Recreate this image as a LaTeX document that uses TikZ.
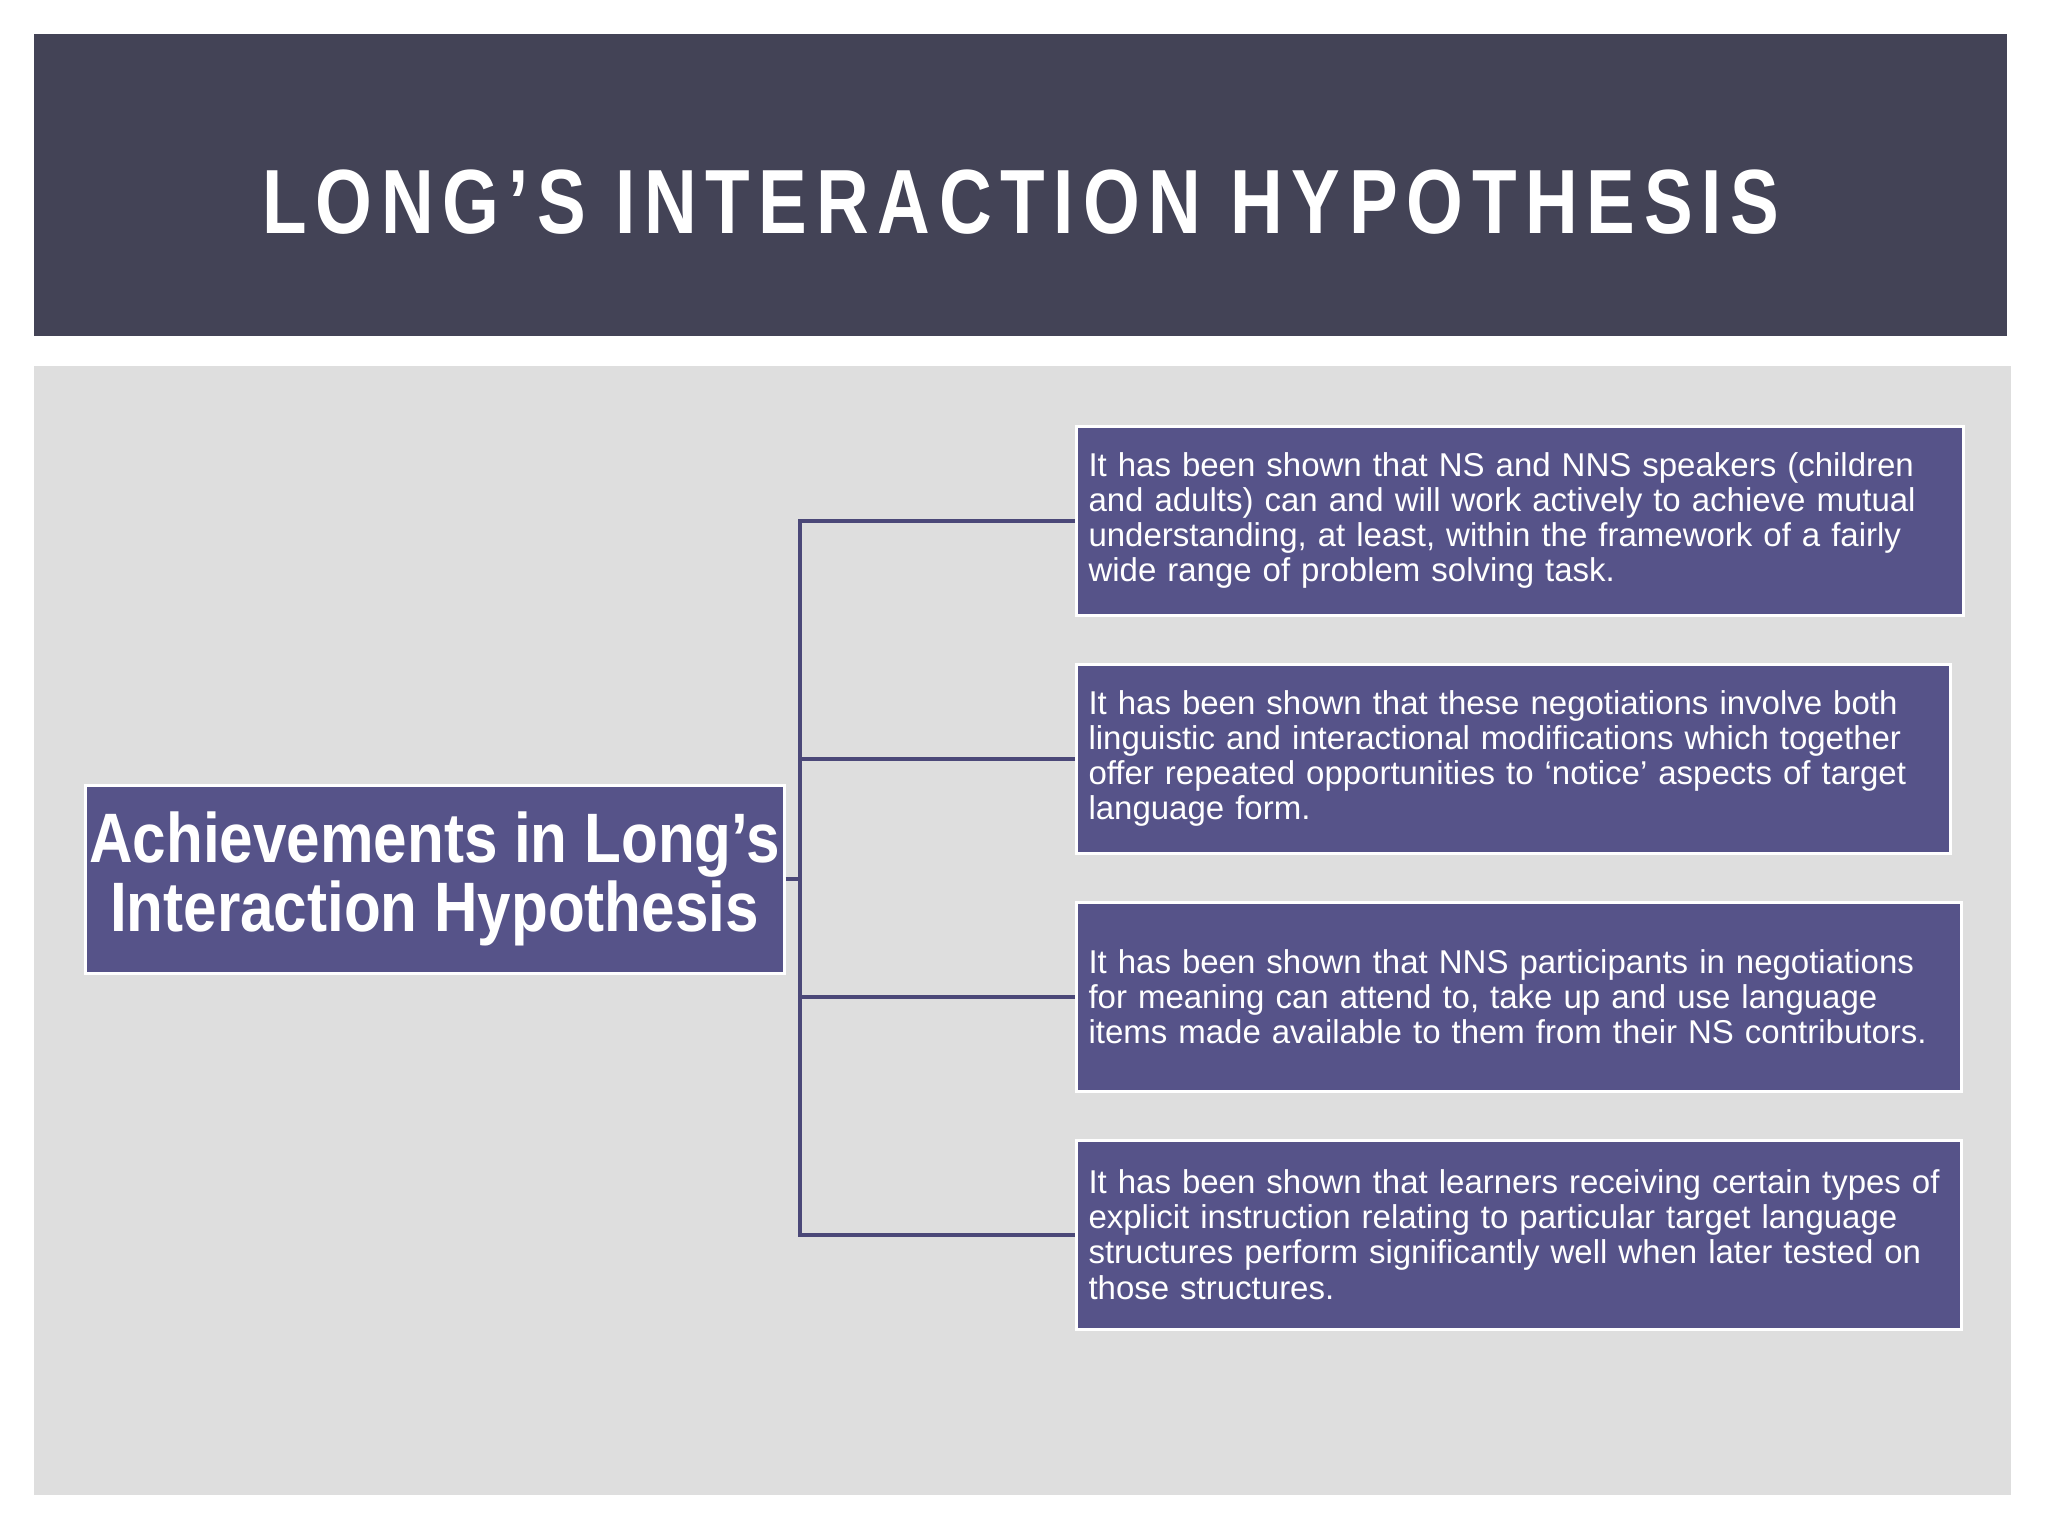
\documentclass[tikz,border=0pt]{standalone}
\usepackage{fontspec}
\setmainfont{Liberation Sans}
\newfontfamily\leadfont[FakeStretch=0.86]{Liberation Sans}
\newfontfamily\titlefont[FakeStretch=0.8,LetterSpace=9.6]{Liberation Sans}
\usetikzlibrary{positioning}
\definecolor{banner}{HTML}{434356}
\definecolor{panel}{HTML}{DEDEDE}
\definecolor{boxfill}{HTML}{565389}
\definecolor{treeline}{HTML}{4B4878}

\begin{document}
\begin{tikzpicture}[x=0.5pt, y=-0.5pt, node distance=23pt,
    finding/.style={draw=white, line width=1.5pt, fill=boxfill, text=white, rectangle, align=left, minimum height=94.5pt, inner xsep=6pt, font=\fontsize{16.5}{17.6}\selectfont},
    tree/.style={draw=treeline, line width=2pt}]
    % Slide background and title bar
    \fill[white] (0,0) rectangle (2048,1536);
    \useasboundingbox (0,0) rectangle (2048,1536);
    \fill[banner] (34,34) rectangle (2007,336);
    \fill[panel] (34,366) rectangle (2011,1495);
    \node[text=white, font=\titlefont\bfseries\fontsize{45.6}{50}\selectfont] (title) at (1021,202) {LONG’S INTERACTION HYPOTHESIS};

    % Root node
    \node[draw=white, line width=1.5pt, fill=boxfill, text=white, align=center, minimum width=349.5pt, minimum height=94pt, inner sep=1pt, font=\leadfont\bfseries\fontsize{35}{34.6}\selectfont] (lead) at (434.5,879) {Achievements in Long’s\\ Interaction Hypothesis};

    % Findings
    \node[finding, text width=431.5pt, anchor=west] (f1) at (1075,520.5) {It has been shown that NS and NNS speakers (children\\ and adults) can and will work actively to achieve mutual\\ understanding, at least, within the framework of a fairly\\ wide range of problem solving task.};
    \node[finding, text width=425pt, below=of f1.south west, anchor=north west] (f2) {It has been shown that these negotiations involve both\\ linguistic and interactional modifications which together\\ offer repeated opportunities to ‘notice’ aspects of target\\ language form.};
    \node[finding, text width=430.5pt, below=of f2.south west, anchor=north west] (f3) {It has been shown that NNS participants in negotiations\\ for meaning can attend to, take up and use language\\ items made available to them from their NS contributors.};
    \node[finding, text width=430.5pt, below=of f3.south west, anchor=north west] (f4) {It has been shown that learners receiving certain types of\\ explicit instruction relating to particular target language\\ structures perform significantly well when later tested on\\ those structures.};

    % Connectors
    \coordinate (trunk) at (800,879);
    \draw[tree] (lead.east) -- (trunk);
    \foreach \f in {f1,f2,f3,f4}
        \draw[tree] (trunk) |- (\f.west);
\end{tikzpicture}
\end{document}
